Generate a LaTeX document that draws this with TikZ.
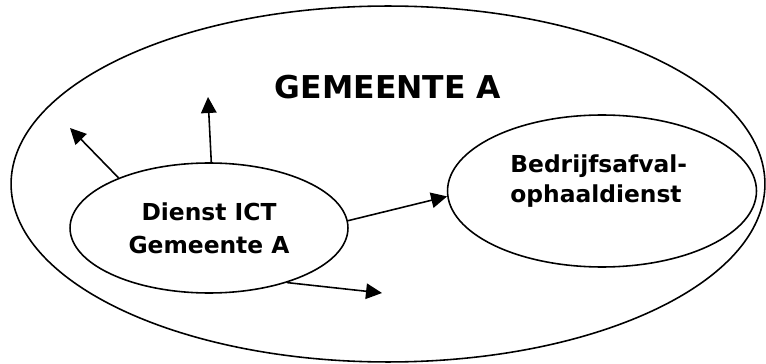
\documentclass[tikz,border=0pt]{standalone}
\usepackage{fontspec}
\setmainfont{DejaVu Sans}
\usetikzlibrary{shapes.geometric}
\usetikzlibrary{arrows.meta}
\usetikzlibrary{positioning}

\begin{document}
\begin{tikzpicture}[x=0.02cm,y=-0.02cm,
  blob/.style={ellipse,draw=black,line width=0.9pt,inner sep=0pt},
  lbl/.style={font=\fontsize{13.3}{18.9}\selectfont\bfseries,text=black},
  pijl/.style={line width=0.9pt,-{Triangle[length=0.32cm,width=0.31cm]}}]
\useasboundingbox (0,0) rectangle (766,364);
\node[blob,minimum width=15.08cm,minimum height=7.12cm] (gemeente) at (388,184) {};
\node[font=\fontsize{17.9}{22}\selectfont\bfseries] (titel) at (388,87) {GEMEENTE A};
\node[blob,lbl,align=center,minimum width=5.56cm,minimum height=2.6cm] (ict) at (209,228) {Dienst ICT\\Gemeente A};
\node[blob,minimum width=6.18cm,minimum height=3.04cm] (afval) at (602,191) {};
\node[lbl,font=\fontsize{13.3}{17.1}\selectfont\bfseries,align=left,anchor=north west,inner sep=0pt] (afvaltxt) at (510,154) {Bedrijfsafval-\\ophaaldienst};

% losse pijlen naar buiten
\coordinate (p1) at (70,128);
\coordinate (p2) at (208,97);
\coordinate (p3) at (382,293);
\draw[pijl] (ict.151) -- (p1);
\draw[pijl] (ict.88) -- (p2);
\draw[pijl] (ict.3) -- (afval.182);
\draw[pijl] (ict.-35) -- (p3);
\end{tikzpicture}
\end{document}
